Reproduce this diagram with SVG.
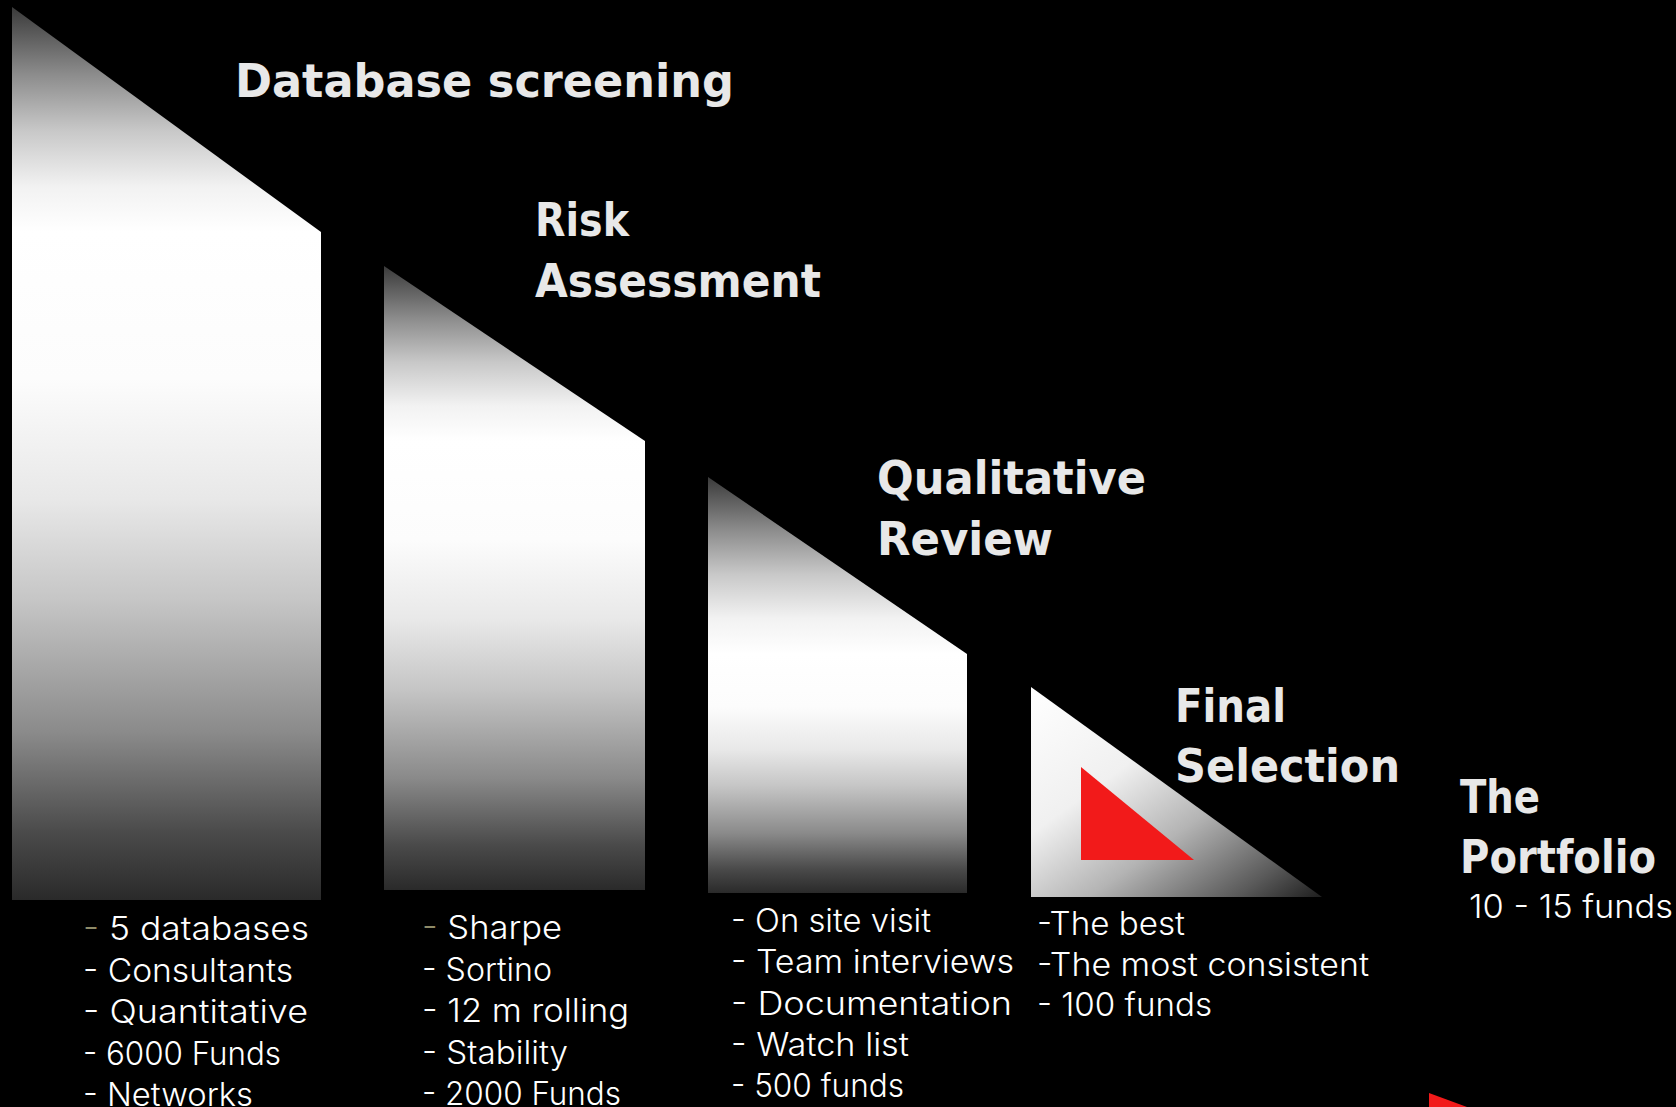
<svg xmlns="http://www.w3.org/2000/svg" width="1676" height="1107" viewBox="0 0 1676 1107">
  <defs>
    <!-- sloped top of each stage: dark at the apex, white at the shoulder -->
    <linearGradient id="gTop" x1="0" y1="0" x2="0" y2="1">
      <stop offset="0" stop-color="#3a3a3a"/>
      <stop offset="0.3" stop-color="#8c8c8c"/>
      <stop offset="0.55" stop-color="#c8c8c8"/>
      <stop offset="0.8" stop-color="#f2f2f2"/>
      <stop offset="1" stop-color="#ffffff"/>
    </linearGradient>
    <!-- body of each stage: white at the top fading to near-black -->
    <linearGradient id="gBody" x1="0" y1="0" x2="0" y2="1">
      <stop offset="0" stop-color="#ffffff"/>
      <stop offset="0.22" stop-color="#fcfcfc"/>
      <stop offset="0.4" stop-color="#e8e8e8"/>
      <stop offset="0.55" stop-color="#c6c6c6"/>
      <stop offset="0.75" stop-color="#8a8a8a"/>
      <stop offset="0.9" stop-color="#4a4a4a"/>
      <stop offset="1" stop-color="#2a2a2a"/>
    </linearGradient>
    <!-- final selection wedge: diagonal white to dark -->
    <linearGradient id="gWedge" x1="0" y1="0" x2="1" y2="1">
      <stop offset="0" stop-color="#ffffff"/>
      <stop offset="0.35" stop-color="#f0f0f0"/>
      <stop offset="0.6" stop-color="#b4b4b4"/>
      <stop offset="0.85" stop-color="#5a5a5a"/>
      <stop offset="1" stop-color="#1e1e1e"/>
    </linearGradient>
    <style>
      .title { font-family: "Century Gothic", "DejaVu Sans", sans-serif; font-weight: bold; font-size: 47px; fill: #e8e8e8; }
      .item { font-family: "Century Gothic", "Inter", "DejaVu Sans", sans-serif; font-weight: 300; font-size: 32px; fill: #ffffff; }
      .dim { fill: #8e8b68; }
      .red { fill: #f21a1a; }
    </style>
  </defs>

  <rect x="0" y="0" width="1676" height="1107" fill="#000000"/>

  <!-- stage 1 -->
  <g id="stage-database">
    <polygon points="12,7 321,232 12,232" fill="url(#gTop)"/>
    <rect x="12" y="232" width="309" height="668" fill="url(#gBody)"/>
    <text class="title" x="235" y="97" textLength="499" lengthAdjust="spacingAndGlyphs">Database screening</text>
    <g class="item">
      <text x="83" y="940" textLength="226" lengthAdjust="spacingAndGlyphs"><tspan class="dim">-</tspan> 5 databases</text>
      <text x="83" y="982" textLength="210" lengthAdjust="spacingAndGlyphs">- Consultants</text>
      <text x="83" y="1023" textLength="225" lengthAdjust="spacingAndGlyphs">- Quantitative</text>
      <text x="83" y="1065" textLength="198" lengthAdjust="spacingAndGlyphs">- 6000 Funds</text>
      <text x="83" y="1106" textLength="170" lengthAdjust="spacingAndGlyphs">- Networks</text>
    </g>
  </g>

  <!-- stage 2 -->
  <g id="stage-risk">
    <polygon points="384,266 645,441 384,441" fill="url(#gTop)"/>
    <rect x="384" y="441" width="261" height="449" fill="url(#gBody)"/>
    <text class="title" x="535" y="236" textLength="94" lengthAdjust="spacingAndGlyphs">Risk</text>
    <text class="title" x="535" y="297" textLength="286" lengthAdjust="spacingAndGlyphs">Assessment</text>
    <g class="item">
      <text x="422" y="939" textLength="140" lengthAdjust="spacingAndGlyphs"><tspan class="dim">-</tspan> Sharpe</text>
      <text x="422" y="981" textLength="130" lengthAdjust="spacingAndGlyphs">- Sortino</text>
      <text x="422" y="1022" textLength="207" lengthAdjust="spacingAndGlyphs">- 12 m rolling</text>
      <text x="422" y="1064" textLength="146" lengthAdjust="spacingAndGlyphs">- Stability</text>
      <text x="422" y="1105" textLength="199" lengthAdjust="spacingAndGlyphs">- 2000 Funds</text>
    </g>
  </g>

  <!-- stage 3 -->
  <g id="stage-qualitative">
    <polygon points="708,477 967,654 708,654" fill="url(#gTop)"/>
    <rect x="708" y="654" width="259" height="239" fill="url(#gBody)"/>
    <text class="title" x="877" y="494" textLength="269" lengthAdjust="spacingAndGlyphs">Qualitative</text>
    <text class="title" x="877" y="555" textLength="176" lengthAdjust="spacingAndGlyphs">Review</text>
    <g class="item">
      <text x="731" y="932" textLength="200" lengthAdjust="spacingAndGlyphs">- On site visit</text>
      <text x="731" y="973" textLength="283" lengthAdjust="spacingAndGlyphs">- Team interviews</text>
      <text x="731" y="1015" textLength="281" lengthAdjust="spacingAndGlyphs">- Documentation</text>
      <text x="731" y="1056" textLength="178" lengthAdjust="spacingAndGlyphs">- Watch list</text>
      <text x="731" y="1097" textLength="173" lengthAdjust="spacingAndGlyphs">- 500 funds</text>
    </g>
  </g>

  <!-- stage 4 -->
  <g id="stage-final">
    <polygon points="1031,687 1322,897 1031,897" fill="url(#gWedge)"/>
    <polygon class="red" points="1081,767 1194,860 1081,860"/>
    <text class="title" x="1175" y="722" textLength="111" lengthAdjust="spacingAndGlyphs">Final</text>
    <text class="title" x="1175" y="782" textLength="225" lengthAdjust="spacingAndGlyphs">Selection</text>
    <g class="item">
      <text x="1037" y="935" textLength="148" lengthAdjust="spacingAndGlyphs">-The best</text>
      <text x="1037" y="976" textLength="332" lengthAdjust="spacingAndGlyphs">-The most consistent</text>
      <text x="1037" y="1016" textLength="175" lengthAdjust="spacingAndGlyphs">- 100 funds</text>
    </g>
  </g>

  <!-- result -->
  <g id="portfolio">
    <text class="title" x="1460" y="813" textLength="80" lengthAdjust="spacingAndGlyphs">The</text>
    <text class="title" x="1460" y="873" textLength="196" lengthAdjust="spacingAndGlyphs">Portfolio</text>
    <text class="item" x="1469" y="918" textLength="204" lengthAdjust="spacingAndGlyphs">10 - 15 funds</text>
    <polygon class="red" points="1429,1093 1467,1107 1429,1107"/>
  </g>
</svg>
